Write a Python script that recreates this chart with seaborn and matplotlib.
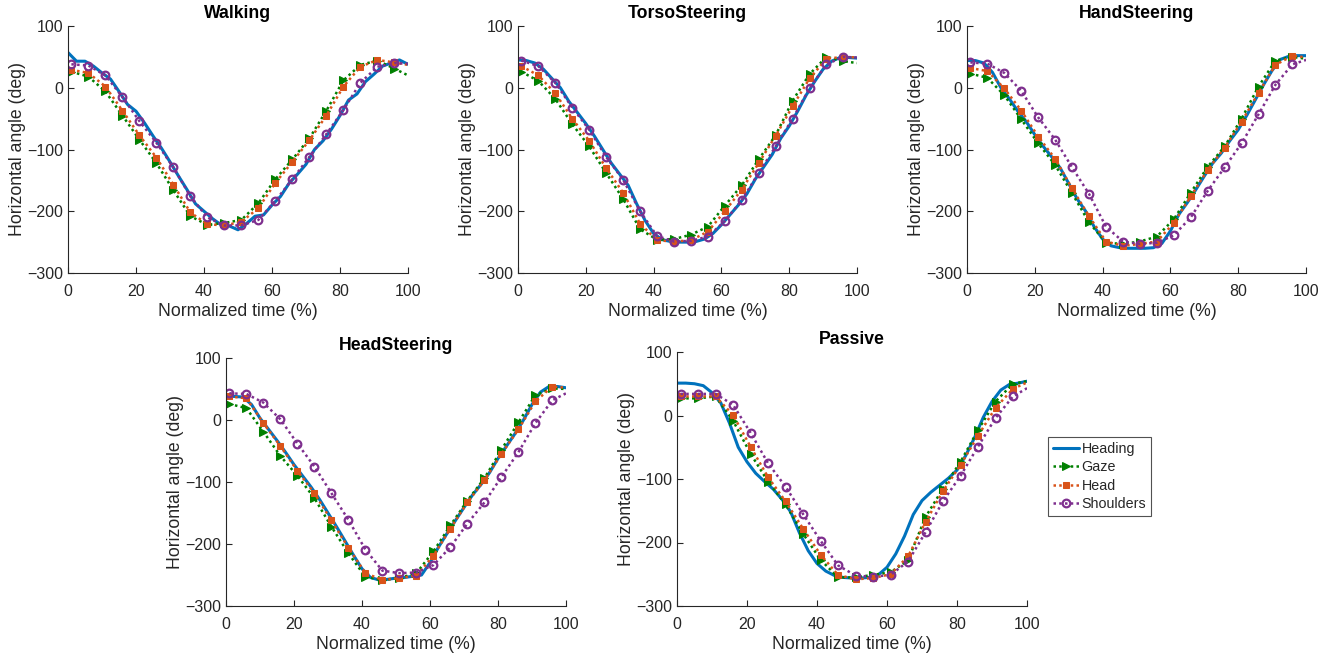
import matplotlib
matplotlib.use("Agg")
import matplotlib.pyplot as plt
import seaborn as sns

# sample positions (% of cycle)
MARKER_X = [1, 6, 11, 16, 21, 26, 31, 36, 41, 46, 51, 56, 61, 66, 71, 76, 81, 86, 91, 96, 100]
HEADING_X = [0, 2.5, 5, 7.5, 10, 12.5, 15, 17.5, 20, 22.5, 25, 27.5, 30, 32.5, 35, 37.5, 40,
             42.5, 45, 47.5, 50, 52.5, 55, 57.5, 60, 62.5, 65, 67.5, 70, 72.5, 75, 77.5, 80,
             82.5, 85, 87.5, 90, 92.5, 95, 97.5, 100]

CONDITIONS = ["Walking", "TorsoSteering", "HandSteering", "HeadSteering", "Passive"]
SERIES = ["Heading", "Gaze", "Head", "Shoulders"]

# Walking
WALKING_HEADING = [57, 43, 43, 35, 24, 14, -6, -27, -38, -57, -78, -98, -120, -143, -165, -188, -200,
                   -212, -222, -224, -230, -220, -208, -206, -190, -176, -155, -140, -124, -100, -86,
                   -67, -45, -20, -10, 10, 22, 35, 40, 45, 38]
WALKING_GAZE = [26, 18, -6, -45, -84, -122, -166, -208, -222, -219, -214, -187, -148, -116, -82, -37,
                12, 37, 44, 31, 20]
WALKING_HEAD = [29, 24, 2, -37, -77, -113, -157, -202, -221, -223, -217, -195, -154, -120, -85, -45,
                2, 34, 45, 41, 37]
WALKING_SHOULDERS = [38, 36, 20, -15, -54, -89, -129, -176, -210, -223, -223, -214, -183, -148, -112,
                     -75, -36, 8, 34, 40, 39]

# TorsoSteering
TORSO_HEADING = [45, 44, 40, 30, 15, 0, -22, -40, -58, -78, -100, -122, -140, -158, -188, -215, -236,
                 -246, -249, -250, -250, -249, -245, -236, -222, -206, -190, -172, -148, -128, -108,
                 -82, -62, -38, -12, 10, 30, 43, 49, 49, 48]
TORSO_GAZE = [26, 11, -18, -59, -95, -138, -180, -229, -246, -245, -238, -225, -191, -158, -116, -77,
              -21, 22, 50, 43, 40]
TORSO_HEAD = [35, 20, -9, -50, -86, -130, -170, -220, -247, -249, -247, -233, -200, -165, -122, -78,
              -30, 15, 47, 50, 49]
TORSO_SHOULDERS = [44, 35, 8, -32, -68, -112, -149, -200, -240, -249, -248, -241, -216, -182, -138,
                   -95, -50, -1, 38, 50, 49]

# HandSteering
HAND_HEADING = [44, 44, 40, 25, 0, -18, -38, -55, -76, -95, -112, -130, -155, -180, -200, -225, -245,
                -256, -259, -260, -260, -260, -259, -252, -232, -205, -186, -165, -143, -122, -106,
                -86, -68, -45, -20, 5, 28, 46, 51, 52, 52]
HAND_GAZE = [23, 16, -12, -51, -90, -125, -171, -218, -251, -253, -249, -241, -213, -170, -128, -95,
             -50, 2, 44, 50, 47]
HAND_HEAD = [32, 27, -1, -37, -79, -115, -163, -208, -249, -256, -253, -249, -219, -176, -133, -97,
             -55, -8, 37, 52, 49]
HAND_SHOULDERS = [41, 39, 24, -5, -48, -84, -129, -172, -225, -249, -253, -251, -239, -210, -167,
                  -129, -90, -43, 5, 38, 45]

# HeadSteering
HEADSTEER_HEADING = [38, 38, 37, 25, 3, -15, -33, -52, -72, -90, -108, -128, -150, -172, -195, -218,
                     -240, -254, -258, -257, -255, -254, -252, -250, -230, -205, -183, -162, -141,
                     -121, -104, -85, -62, -42, -22, 0, 25, 45, 54, 54, 52]
HEADSTEER_GAZE = [26, 19, -19, -58, -90, -126, -172, -215, -253, -258, -255, -247, -212, -170, -130,
                  -94, -48, -4, 40, 51, 50]
HEADSTEER_HEAD = [38, 35, -5, -42, -82, -118, -162, -206, -247, -258, -255, -251, -219, -175, -133,
                  -97, -55, -15, 30, 54, 52]
HEADSTEER_SHOULDERS = [43, 42, 28, 1, -38, -75, -118, -161, -209, -243, -247, -246, -234, -205, -167,
                       -133, -92, -52, -5, 32, 43]

# Passive
PASSIVE_HEADING = [51, 51, 50, 47, 36, 20, -12, -50, -73, -91, -104, -116, -132, -152, -185, -213,
                   -233, -245, -252, -255, -256, -256, -255, -251, -239, -218, -190, -156, -134, -121,
                   -110, -99, -86, -63, -35, -3, 22, 40, 49, 51, 54]
PASSIVE_GAZE = [27, 27, 30, -8, -60, -104, -140, -186, -227, -255, -255, -251, -247, -228, -160, -115,
                -73, -23, 22, 50, 54]
PASSIVE_HEAD = [30, 30, 30, 1, -49, -97, -135, -178, -219, -251, -258, -256, -250, -222, -168, -119,
                -78, -32, 12, 42, 52]
PASSIVE_SHOULDERS = [34, 34, 34, 17, -27, -75, -112, -155, -197, -236, -252, -254, -251, -230, -184,
                     -135, -95, -49, -4, 30, 43]

PANEL_DATA = {
    "Walking": (WALKING_HEADING, WALKING_GAZE, WALKING_HEAD, WALKING_SHOULDERS),
    "TorsoSteering": (TORSO_HEADING, TORSO_GAZE, TORSO_HEAD, TORSO_SHOULDERS),
    "HandSteering": (HAND_HEADING, HAND_GAZE, HAND_HEAD, HAND_SHOULDERS),
    "HeadSteering": (HEADSTEER_HEADING, HEADSTEER_GAZE, HEADSTEER_HEAD, HEADSTEER_SHOULDERS),
    "Passive": (PASSIVE_HEADING, PASSIVE_GAZE, PASSIVE_HEAD, PASSIVE_SHOULDERS),
}

# axes boxes in pixels: left, top, right, bottom
FIG_W, FIG_H = 1334, 656
PANEL_BOX = {
    "Walking": (68, 26, 408, 273),
    "TorsoSteering": (518, 26, 857, 273),
    "HandSteering": (967, 26, 1306, 273),
    "HeadSteering": (226, 358, 566, 606),
    "Passive": (677, 352, 1027, 606),
}

STYLES = {
    "Heading": dict(color="#0072BD", linestyle="-", linewidth=2.2),
    "Gaze": dict(color="#008000", linestyle=(0, (1, 1.3)), linewidth=1.8, marker=">",
                 markersize=6, markerfacecolor="#008000", markeredgecolor="#008000"),
    "Head": dict(color="#D95319", linestyle=(0, (1, 1.3)), linewidth=1.8, marker="s",
                 markersize=5, markerfacecolor="#D95319", markeredgecolor="#D95319"),
    "Shoulders": dict(color="#7E2F8E", linestyle=(0, (1, 1.3)), linewidth=1.8, marker="o",
                      markersize=5.5, markerfacecolor="none", markeredgecolor="#7E2F8E",
                      markeredgewidth=1.6),
}

sns.set_style("ticks")
plt.rcParams["font.family"] = ["Liberation Sans", "DejaVu Sans"]

fig = plt.figure(figsize=(FIG_W / 100, FIG_H / 100), dpi=100)

for name in CONDITIONS:
    l, t, r, b = PANEL_BOX[name]
    ax = fig.add_axes([l / FIG_W, 1 - b / FIG_H, (r - l) / FIG_W, (b - t) / FIG_H])
    for series, values in zip(SERIES, PANEL_DATA[name]):
        xs = HEADING_X if series == "Heading" else MARKER_X
        kw = dict(STYLES[series])
        if series != "Heading":
            kw["markevery"] = slice(0, len(xs) - 1)
        sns.lineplot(x=xs, y=values, ax=ax, label=series, legend=False, sort=False, **kw)
    ax.set_xlim(0, 100)
    ax.set_ylim(-300, 100)
    ax.set_xticks([0, 20, 40, 60, 80, 100])
    ax.set_yticks([-300, -200, -100, 0, 100])
    ax.tick_params(direction="in", length=4, labelsize=11.5, colors="#262626", width=0.8)
    ax.tick_params(axis="x", pad=8)
    for side in ("top", "right"):
        ax.spines[side].set_visible(False)
    for side in ("left", "bottom"):
        ax.spines[side].set_color("#262626")
        ax.spines[side].set_linewidth(0.8)
    ax.set_title(name, fontsize=12.7, fontweight="bold", color="black", pad=6)
    ax.set_xlabel("Normalized time (%)", fontsize=12.7, color="#262626", labelpad=3)
    ax.set_ylabel("Horizontal angle (deg)", fontsize=12.7, color="#262626", labelpad=0.5)

    if name == "Passive":
        leg = ax.legend(loc="upper left", bbox_to_anchor=(1.06, 0.665), borderaxespad=0,
                        fontsize=10.3, frameon=True, fancybox=False, handlelength=1.8,
                        handletextpad=0.2, borderpad=0.35, labelspacing=0.3)
        leg.get_frame().set_edgecolor("#262626")
        leg.get_frame().set_linewidth(0.8)

fig.savefig("out.png", dpi=100)
